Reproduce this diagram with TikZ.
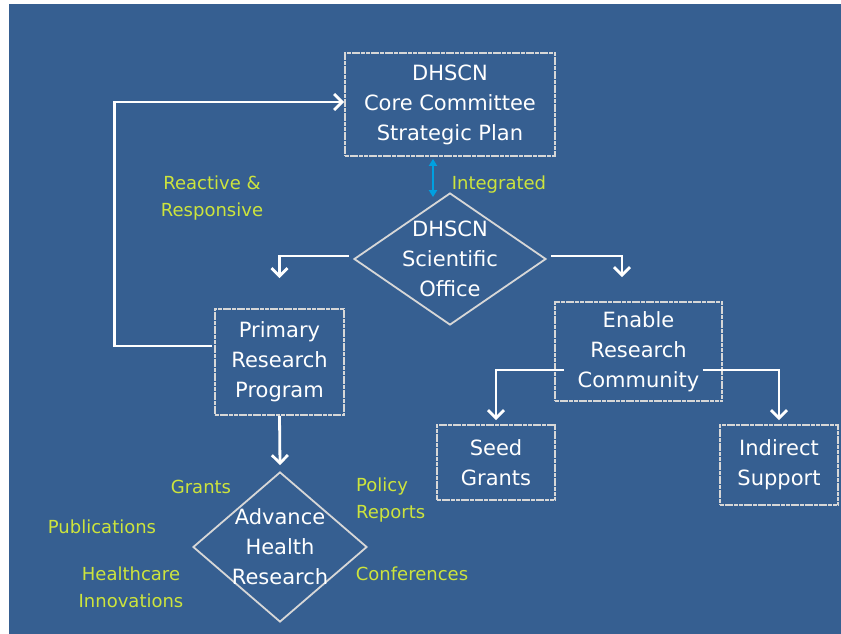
\documentclass[tikz,border=0pt]{standalone}
\usepackage{fontspec}
\setmainfont{DejaVu Sans}
\usepackage{tikz}
\usetikzlibrary{shapes.geometric,calc,positioning,arrows.meta}
\definecolor{bgblue}{RGB}{54,95,145}
\definecolor{chalk}{RGB}{215,215,215}
\definecolor{lime}{RGB}{205,228,60}
\definecolor{cyanarrow}{RGB}{0,160,225}

\begin{document}
\begin{tikzpicture}[x=1pt,y=-1pt,>={Straight Barb[length=8pt,width=16pt]},
box/.style = {draw=chalk, line width=1.8pt, dash pattern=on 4pt off 0.7pt, text=white, align=center, inner sep=0pt, font=\fontsize{21}{30}\selectfont},
dmd/.style = {draw=chalk, line width=1.8pt, diamond, inner sep=-30pt, text=white, align=center, font=\fontsize{21}{30}\selectfont},
note/.style = {text=lime, align=center, inner sep=0pt, font=\fontsize{18}{27}\selectfont},
flow/.style = {draw=white, line width=2.8pt},]
\useasboundingbox (0,0) rectangle (841,634);
\fill[white] (0,0) rectangle (841,634);
\fill[bgblue] (9,4) rectangle (841,634);
\node (core) at (450,104.5)[box,minimum width=210pt,minimum height=103pt] {DHSCN\\Core Committee\\Strategic Plan};
\node (sci) at (450,259)[dmd,minimum width=192pt,minimum height=132pt] {DHSCN\\Scientific\\Office};
\node (prim) at (279.5,362)[box,minimum width=129pt,minimum height=106pt] {Primary\\Research\\Program};
\node (enable) at (638.5,351.5)[box,minimum width=167pt,minimum height=99pt] {Enable\\Research\\Community};
\node (seed) at (496,462.5)[box,minimum width=118pt,minimum height=75pt] {Seed\\Grants};
\node (indir) at (779,465)[box,minimum width=118pt,minimum height=80pt] {Indirect\\Support};
\node (adv) at (280,547)[dmd,minimum width=174pt,minimum height=150pt] {Advance\\Health\\Research};
\node (integ) at (499,185)[note] {Integrated};
\node (react) at (212,198)[note] {Reactive \&\\Responsive};
\node (grants) at (201,487)[note] {Grants};
\node (policy) at (356,500.5)[note,anchor=west,align=left] {Policy\\Reports};
\node (pubs) at (102,527)[note] {Publications};
\node (health) at (131,587.5)[note] {Healthcare\\Innovations};
\node (conf) at (412,574)[note] {Conferences};
\draw[<->,cyanarrow,line width=1.8pt,>={Triangle[length=7pt,width=8pt]}] ([xshift=-17pt,yshift=-2pt]core.south)--([xshift=-17pt,yshift=-5pt]sci.north);
\draw[flow,->] ([xshift=-2pt,yshift=16pt]prim.west)--++(-98,0)|-([yshift=2.5pt]core.west);
\draw[flow,->] ([xshift=-4pt,yshift=3pt]sci.west)-|([yshift=30pt]prim.north);
\draw[flow,->] ([xshift=4pt,yshift=3pt]sci.east)-|([xshift=-16.5pt,yshift=24pt]enable.north);
\draw[flow,->] (prim.south)--([yshift=6pt]adv.north);
\draw[flow,->] ([xshift=10pt,yshift=-18.5pt]enable.west)-|([yshift=4pt]seed.north);
\draw[flow,->] ([xshift=-20pt,yshift=-18.5pt]enable.east)-|([yshift=4pt]indir.north);
\end{tikzpicture}
\end{document}
